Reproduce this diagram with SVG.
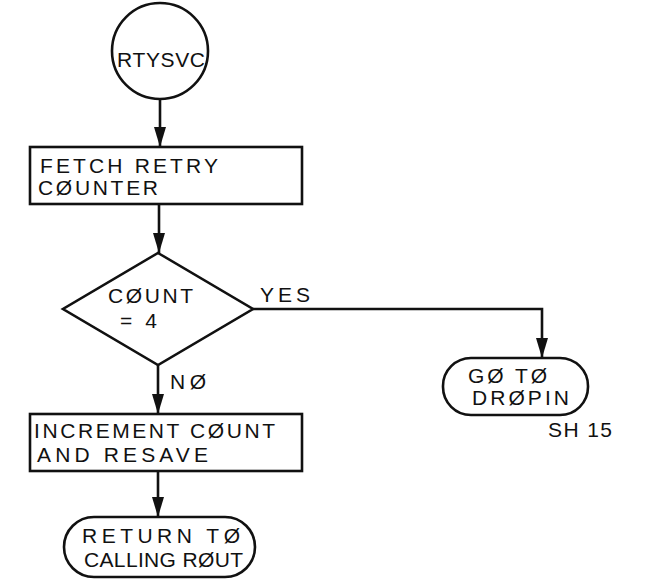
<svg xmlns="http://www.w3.org/2000/svg" width="653" height="582" viewBox="0 0 653 582">
<defs>
<marker id="ah" markerUnits="userSpaceOnUse" markerWidth="20" markerHeight="12" viewBox="0 0 20 12" refX="20" refY="6" orient="auto">
<path d="M0,0 L20,6 L0,12 Z" fill="#111"/>
</marker>
<style>
.s{fill:#fff;stroke:#111;stroke-width:2.6}
.c{fill:none;stroke:#111;stroke-width:2.6}
.t{font-family:"Liberation Sans","DejaVu Sans",sans-serif;font-size:21px;fill:#111}
</style>
</defs>
<rect width="653" height="582" fill="#fff"/>
<g id="connectors">
<line class="c" x1="160" y1="100" x2="160" y2="147" marker-end="url(#ah)"/>
<line class="c" x1="159" y1="204" x2="159" y2="253" marker-end="url(#ah)"/>
<polyline class="c" points="253,309 542,309 542,358" marker-end="url(#ah)"/>
<line class="c" x1="158" y1="365" x2="158" y2="414" marker-end="url(#ah)"/>
<line class="c" x1="158" y1="471" x2="158" y2="517" marker-end="url(#ah)"/>
<text class="t" x="260" y="302" textLength="50" lengthAdjust="spacing">YES</text>
<text class="t" x="170" y="389" textLength="36" lengthAdjust="spacing">NØ</text>
</g>
<g id="start">
<circle class="s" cx="160" cy="51" r="48"/>
<text class="t" x="117" y="67" textLength="88" lengthAdjust="spacing">RTYSVC</text>
</g>
<g id="fetch">
<rect class="s" x="30" y="147" width="272" height="57"/>
<text class="t" x="40" y="173" textLength="178" lengthAdjust="spacing">FETCH RETRY</text>
<text class="t" x="38" y="195" textLength="120" lengthAdjust="spacing">CØUNTER</text>
</g>
<g id="decision">
<polygon class="s" points="158,253 253,309 158,365 63,309"/>
<text class="t" x="108" y="303" textLength="85" lengthAdjust="spacing">CØUNT</text>
<text class="t" x="120" y="328" textLength="37" lengthAdjust="spacing">= 4</text>
</g>
<g id="goto">
<rect class="s" x="443" y="358" width="145" height="57" rx="28" ry="28"/>
<text class="t" x="468" y="383" textLength="79" lengthAdjust="spacing">GØ TØ</text>
<text class="t" x="472" y="405" textLength="97" lengthAdjust="spacing">DRØPIN</text>
<text class="t" x="548" y="437" textLength="64" lengthAdjust="spacing">SH 15</text>
</g>
<g id="increment">
<rect class="s" x="30" y="414" width="272" height="57"/>
<text class="t" x="34" y="438" textLength="241" lengthAdjust="spacing">INCREMENT CØUNT</text>
<text class="t" x="37" y="462" textLength="171" lengthAdjust="spacing">AND RESAVE</text>
</g>
<g id="return">
<rect class="s" x="64" y="517" width="191" height="60" rx="30" ry="30"/>
<text class="t" x="82" y="543" textLength="158" lengthAdjust="spacing">RETURN TØ</text>
<text class="t" x="84" y="567" textLength="159" lengthAdjust="spacing">CALLING RØUT</text>
</g>
</svg>
